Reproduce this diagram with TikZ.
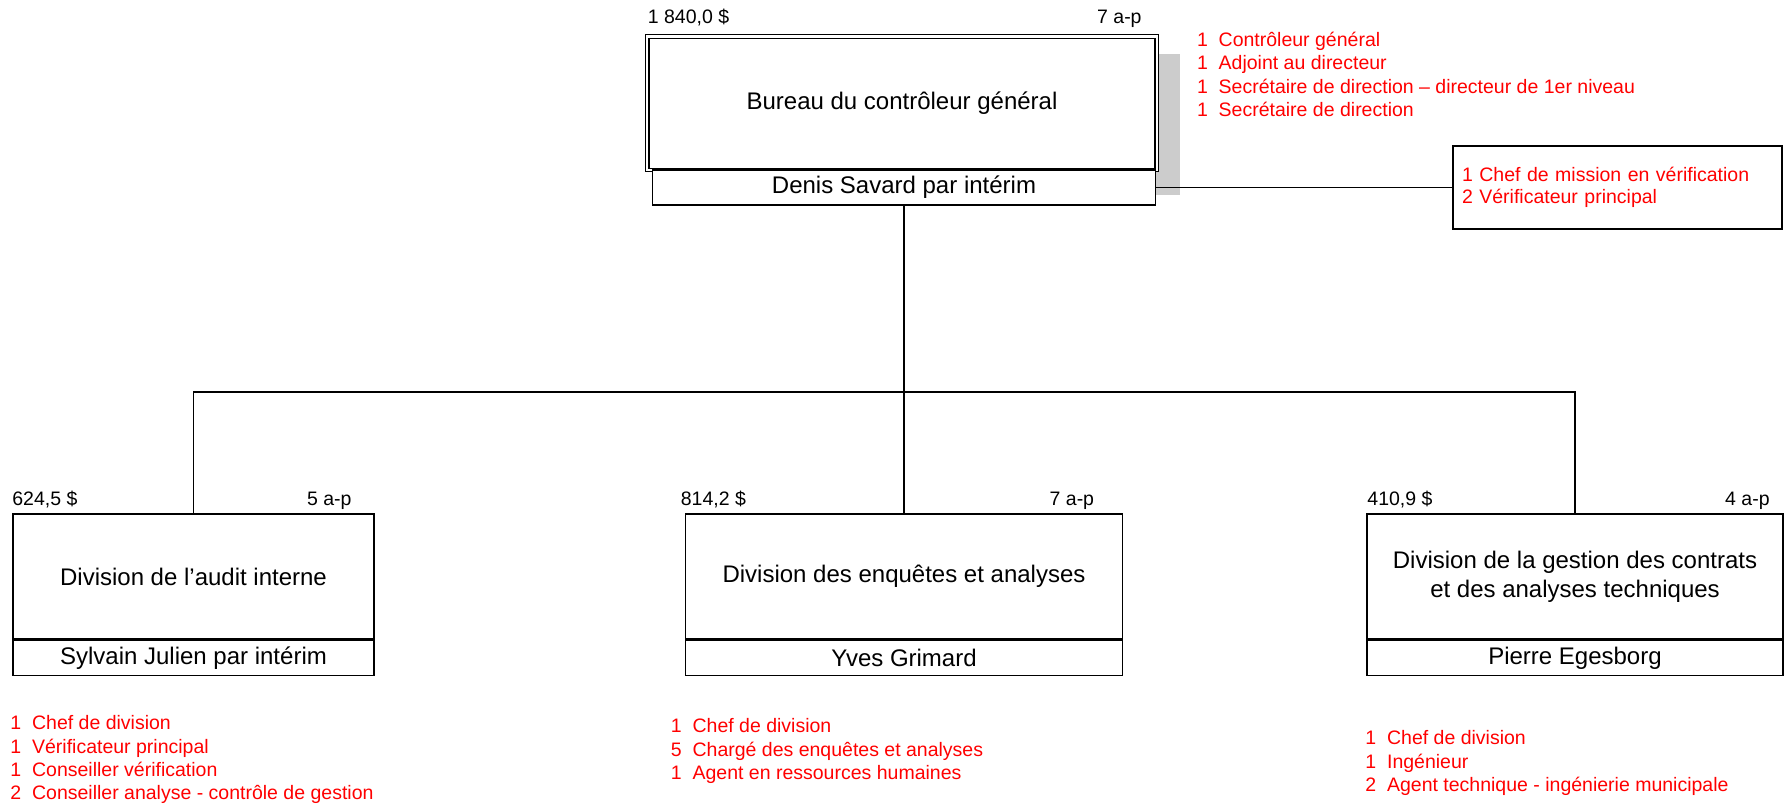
\documentclass[tikz,border=0pt]{standalone}
\usepackage{fontspec}
\setmainfont{Liberation Sans}
\usetikzlibrary{positioning}

\definecolor{postred}{RGB}{255,0,0}
\definecolor{shadowgray}{RGB}{204,204,204}

\newcommand{\post}[2]{\makebox[21.7pt][l]{#1}#2}

\tikzset{
  unitbox/.style={rectangle, draw=black, line width=1.6pt, fill=white, inner sep=0pt,
    align=center, font=\fontsize{24}{29}\selectfont},
  namebox/.style={unitbox, minimum height=35pt},
  costlabel/.style={inner sep=0pt, font=\fontsize{19.5}{23}\selectfont},
  postlist/.style={inner sep=0pt, text=postred, align=left, font=\fontsize{19.5}{23.3}\selectfont},
  link/.style={line width=1.5pt}
}

\begin{document}
\begin{tikzpicture}[x=1pt, y=-1pt]
\useasboundingbox (0,0) rectangle (1786,804);

% shadow behind the head office
\fill[shadowgray] (1150,54) rectangle (1180,195);

\node[unitbox, double, line width=1.1pt, double distance=2.4pt, minimum width=509.5pt, minimum height=133.5pt] (bureau) at (902,103.25) {Bureau du contrôleur général};
\node[namebox, minimum width=503pt] (bureauname) at (904,187.5) {Denis Savard par intérim};
\node[costlabel, above right=12.5pt and 1pt of bureau.north west, anchor=base west] (bureaucost) {1 840,0 \$};
\node[costlabel, above left=12.5pt and 15.5pt of bureau.north east, anchor=base east] (bureaustaff) {7 a-p};
\node[postlist, above right=4pt and 39.5pt of bureau.north east, anchor=north west] (bureauposts) {\post{1}{Contrôleur général}\\\post{1}{Adjoint au directeur}\\\post{1}{Secrétaire de direction – directeur de 1er niveau}\\\post{1}{Secrétaire de direction}};

\node[unitbox, text width=311pt, inner sep=9pt, minimum height=83pt, align=left, text=postred, font=\fontsize{19.5}{22}\selectfont] (verif) at (1617.5,187.5) {1 Chef de mission en vérification\\2 Vérificateur principal};

% divisions
\node[unitbox, minimum width=361pt, minimum height=125pt] (audit) at (193.5,576.5) {Division de l’audit interne};
\node[namebox, minimum width=361pt, below=0pt of audit] (auditname) {Sylvain Julien par intérim};
\node[costlabel, above right=8pt and 0pt of audit.north west, anchor=base west] (auditcost) {624,5 \$};
\node[costlabel, above left=8pt and 23pt of audit.north east, anchor=base east] (auditstaff) {5 a-p};
\node[postlist, below right=39pt and -2pt of auditname.south west, anchor=north west] (auditposts) {\post{1}{Chef de division}\\\post{1}{Vérificateur principal}\\\post{1}{Conseiller vérification}\\\post{2}{Conseiller analyse - contrôle de gestion}};

\node[unitbox, minimum width=437pt, minimum height=125pt] (enquetes) at (904,576.5) {Division des enquêtes et analyses};
\node[namebox, minimum width=437pt, below=0pt of enquetes] (enquetesname) {Yves Grimard};
\node[costlabel, above right=8pt and -4pt of enquetes.north west, anchor=base west] (enquetescost) {814,2 \$};
\node[costlabel, above left=8pt and 29pt of enquetes.north east, anchor=base east] (enquetesstaff) {7 a-p};
\node[postlist, below right=42pt and -14pt of enquetesname.south west, anchor=north west] (enquetesposts) {\post{1}{Chef de division}\\\post{5}{Chargé des enquêtes et analyses}\\\post{1}{Agent en ressources humaines}};

\node[unitbox, minimum width=416pt, minimum height=125pt] (contrats) at (1575,576.5) {Division de la gestion des contrats\\et des analyses techniques};
\node[namebox, minimum width=416pt, below=0pt of contrats] (contratsname) {Pierre Egesborg};
\node[costlabel, above right=8pt and 1pt of contrats.north west, anchor=base west] (contratscost) {410,9 \$};
\node[costlabel, above left=8pt and 14pt of contrats.north east, anchor=base east] (contratsstaff) {4 a-p};
\node[postlist, below right=54pt and -1pt of contratsname.south west, anchor=north west] (contratsposts) {\post{1}{Chef de division}\\\post{1}{Ingénieur}\\\post{2}{Agent technique - ingénierie municipale}};

\coordinate (bus) at (904,392);
\draw[link] (bureauname.south) -- (bus);
\draw[link] (audit.north) |- (bus) -| (contrats.north);
\draw[link] (bus) -- (enquetes.north);
\draw[link] (bureauname.east) -- (verif.west);

\end{tikzpicture}
\end{document}
